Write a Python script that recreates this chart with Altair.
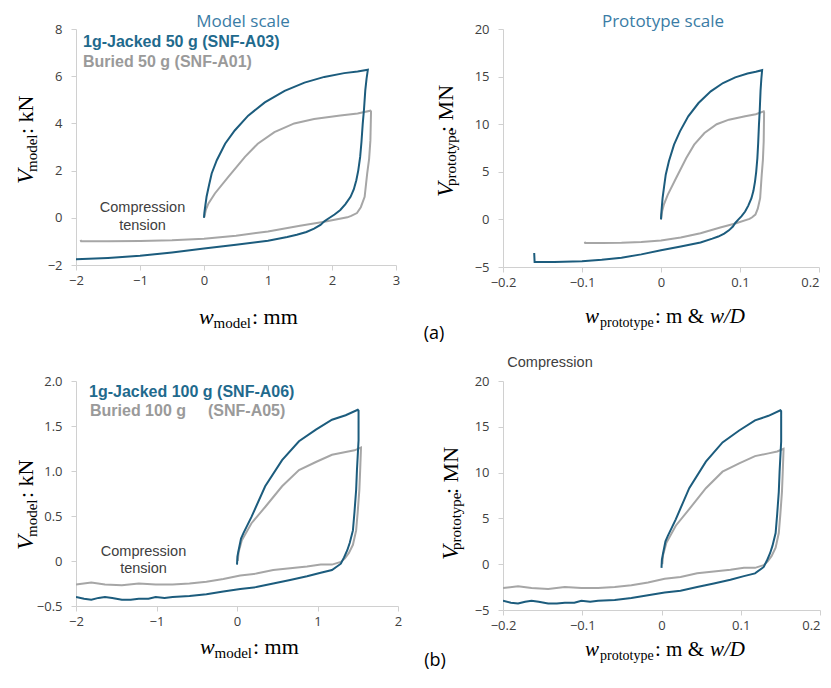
import altair as alt
import pandas as pd

# ---------------- data (model scale) ----------------
# 50 g tests: w in mm, V in kN
A03_W = [0.0, 0.005, 0.02, 0.04, 0.08, 0.12, 0.2, 0.33, 0.48, 0.69, 0.95, 1.26, 1.57, 1.88, 2.19, 2.4, 2.56,
         2.54, 2.52, 2.5, 2.48, 2.46, 2.44, 2.41, 2.38, 2.34, 2.29, 2.21, 2.13, 2.04, 1.95, 1.88, 1.82, 1.72,
         1.6, 1.45, 1.3, 1.0, 0.5, 0.0, -0.5, -1.0, -1.5, -2.0, -2.7, -3.2, -3.21]
A03_V = [0.0, 0.2, 0.5, 0.89, 1.4, 1.88, 2.44, 3.14, 3.7, 4.33, 4.89, 5.38, 5.73, 5.97, 6.13, 6.2, 6.27,
         5.9, 5.4, 4.6, 3.98, 3.2, 2.58, 2.0, 1.59, 1.2, 0.89, 0.58, 0.33, 0.14, -0.02, -0.15, -0.30, -0.46,
         -0.6, -0.72, -0.81, -0.97, -1.14, -1.30, -1.47, -1.61, -1.70, -1.76, -1.79, -1.79, -1.41]
A01_W = [0.0, 0.01, 0.03, 0.07, 0.17, 0.38, 0.64, 0.84, 1.1, 1.41, 1.72, 2.13, 2.4, 2.6,
         2.61, 2.6, 2.58, 2.55, 2.51, 2.45, 2.39, 2.3, 2.24, 1.88, 1.5, 1.0, 0.5, 0.0, -0.5, -1.0, -1.5,
         -1.92, -1.93]
A01_V = [0.0, 0.1, 0.35, 0.61, 1.03, 1.73, 2.58, 3.14, 3.63, 4.0, 4.19, 4.33, 4.42, 4.54,
         4.5, 3.28, 2.5, 1.88, 0.89, 0.45, 0.2, 0.08, 0.02, -0.17, -0.34, -0.58, -0.76, -0.89, -0.95, -0.98,
         -0.99, -0.99, -0.94]
# 100 g tests
A06_W = [0.0, 0.005, 0.02, 0.05, 0.08, 0.18, 0.35, 0.56, 0.77, 0.98, 1.18, 1.35, 1.5,
         1.51, 1.51, 1.49, 1.48, 1.46, 1.44, 1.4, 1.37, 1.33, 1.29, 1.18, 1.04, 0.87, 0.66, 0.45, 0.24, 0.04,
         -0.17, -0.38, -0.59, -0.80, -0.9, -1.01, -1.1, -1.22, -1.32, -1.43, -1.55, -1.64, -1.72, -1.81,
         -1.9, -2.0]
A06_V = [-0.04, 0.05, 0.12, 0.25, 0.31, 0.49, 0.83, 1.12, 1.33, 1.46, 1.57, 1.62, 1.68,
         1.67, 1.34, 1.01, 0.79, 0.55, 0.34, 0.2, 0.12, 0.04, -0.03, -0.10, -0.13, -0.17, -0.21, -0.25,
         -0.29, -0.31, -0.34, -0.37, -0.39, -0.40, -0.41, -0.40, -0.42, -0.42, -0.43, -0.43, -0.41, -0.40,
         -0.41, -0.43, -0.42, -0.40]
A05_W = [0.01, 0.015, 0.02, 0.06, 0.18, 0.35, 0.56, 0.77, 0.98, 1.18, 1.35, 1.46, 1.54,
         1.54, 1.53, 1.52, 1.5, 1.48, 1.44, 1.39, 1.34, 1.29, 1.18, 1.04, 0.87, 0.66, 0.45, 0.24, 0.04,
         -0.17, -0.38, -0.59, -0.80, -1.01, -1.22, -1.43, -1.64, -1.81, -2.0]
A05_V = [0.0, 0.05, 0.1, 0.23, 0.42, 0.60, 0.83, 1.01, 1.10, 1.18, 1.21, 1.23, 1.26,
         1.25, 1.01, 0.79, 0.55, 0.34, 0.18, 0.09, 0.03, -0.01, -0.04, -0.04, -0.06, -0.08, -0.10, -0.14,
         -0.16, -0.20, -0.23, -0.25, -0.26, -0.26, -0.25, -0.27, -0.26, -0.24, -0.26]

# centrifuge scaling factors (model -> prototype)
N_A = 50
N_B = 100

# axis ticks
TL_XT = [-2, -1, 0, 1, 2, 3]
TL_YT = [-2, 0, 2, 4, 6, 8]
TR_XT = [-0.2, -0.1, 0, 0.1, 0.2]
TR_YT = [-5, 0, 5, 10, 15, 20]
BL_XT = [-2, -1, 0, 1, 2]
BL_YT = [-0.5, 0, 0.5, 1.0, 1.5, 2.0]
BR_XT = [-0.2, -0.1, 0, 0.1, 0.2]
BR_YT = [-5, 0, 5, 10, 15, 20]

TEAL = "#1c5c7d"
TEAL_TXT = "#1f6a8d"
TITLE_C = "#3a7ca5"
GRAY = "#a6a6a6"
GRAY_TXT = "#9a9a9a"
DARK = "#404040"
SANS = "Open Sans"
SANS2 = "Liberation Sans"
SERIF = "Liberation Serif"
BLACK = "#000000"


def df_of(w, v, sw=1.0, sv=1.0):
    return pd.DataFrame({"w": [a * sw for a in w], "v": [b * sv for b in v], "i": list(range(len(w)))})


def T(s, x, y, size, color=DARK, font=SANS, weight="normal", style="normal", angle=0,
      align="left", baseline="alphabetic"):
    kw = dict(text=s, fontSize=size, color=color, font=font, fontWeight=weight, fontStyle=style,
              align=align, baseline=baseline)
    if angle:
        kw["angle"] = angle
    return alt.Chart(pd.DataFrame({"a": [0]})).mark_text(**kw).encode(x=alt.value(x), y=alt.value(y))


def ytitle(sub, unit, vx, vy, sx, sy, ux, uy):
    return [
        T("V", vx, vy, 24, color=BLACK, font=SERIF, style="italic", angle=270),
        T(sub, sx, sy, 15, color=BLACK, font=SERIF, angle=270),
        T(unit, ux, uy, 22, color=BLACK, font=SERIF, angle=270),
    ]


def xtitle_proto(y, size=21):
    return [
        T("w", 82, y, size, color=BLACK, font=SERIF, style="italic"),
        T("prototype", 97, y + 4, 14, color=BLACK, font=SERIF),
        T(": m & ", 152, y, size, color=BLACK, font=SERIF),
        T("w/D", 207, y, size, color=BLACK, font=SERIF, style="italic"),
    ]


def panel(series, xdom, xt, ydom, yt, width, height, box, texts, ylabel_expr=None, flush_last=False):
    xax = dict(values=xt, title=None, format="~g", labelFlush=False)
    if flush_last:
        # last label kept inside the page: right-aligned on its tick
        xax["labelAlign"] = {"condition": {"test": "datum.value > 0.15", "value": "right"},
                             "value": "center"}
    xenc = alt.X("w:Q", scale=alt.Scale(domain=xdom, nice=False, zero=False), axis=alt.Axis(**xax))
    yax = dict(values=yt, title=None, format="~g", labelFlush=False)
    if ylabel_expr:
        yax["labelExpr"] = ylabel_expr
    yenc = alt.Y("v:Q", scale=alt.Scale(domain=ydom, nice=False, zero=False), axis=alt.Axis(**yax))
    layers = []
    for d, c in series:
        layers.append(alt.Chart(d).mark_line(clip=True, color=c, strokeWidth=2)
                      .encode(x=xenc, y=yenc, order="i:Q"))
    l, t, r, b = box
    layers.append(alt.Chart(pd.DataFrame({"a": [0]})).mark_rule(strokeOpacity=0, strokeWidth=0.1)
                  .encode(x=alt.value(l), y=alt.value(t), x2=alt.value(r), y2=alt.value(b)))
    layers.extend(texts)
    return alt.layer(*layers).properties(width=width, height=height)


# ---- panel (a) left: model scale, origin at page (76, 29)
tl = panel(
    [(df_of(A01_W, A01_V), GRAY), (df_of(A03_W, A03_V), TEAL)],
    [-2, 3], TL_XT, [-2, 8], TL_YT, 320, 236, (-68, -21, 336, 321),
    ytitle("model", ": kN", -43, 155, -39.5, 143, -43, 105) + [
        T("w", 123, 295, 22, color=BLACK, font=SERIF, style="italic"),
        T("model", 137.5, 299, 15, color=BLACK, font=SERIF),
        T(": mm", 176, 295, 22, color=BLACK, font=SERIF),
        T("Model scale", 167, -7.5, 17, color=TITLE_C, align="center", baseline="middle"),
        T("1g-Jacked 50 g (SNF-A03)", 7, 13, 16, color=TEAL_TXT, font=SANS2, weight="bold",
          baseline="middle"),
        T("Buried 50 g (SNF-A01)", 7, 33, 16, color=GRAY_TXT, font=SANS2, weight="bold",
          baseline="middle"),
        T("Compression", 66.5, 179, 14.5, font=SANS2, align="center", baseline="middle"),
        T("tension", 66.5, 197, 14.5, font=SANS2, align="center", baseline="middle"),
    ])

# ---- panel (a) right: prototype scale, origin at page (503, 29)
tr = panel(
    [(df_of(A01_W, A01_V, N_A / 1000, N_A ** 2 / 1000), GRAY),
     (df_of(A03_W, A03_V, N_A / 1000, N_A ** 2 / 1000), TEAL)],
    [-0.2, 0.2], TR_XT, [-5, 20], TR_YT, 316, 238, (-91, -21, 320, 321),
    ytitle("prototype", ": MN", -50, 168, -47, 157, -50, 103) + xtitle_proto(294) + [
        T("Prototype scale", 160, -7.5, 17, color=TITLE_C, align="center", baseline="middle"),
        T("(a)", -69, 305, 18, color=BLACK, align="center", baseline="middle"),
    ], flush_last=True)

# ---- panel (b) left: origin at page (76, 381)
bl = panel(
    [(df_of(A05_W, A05_V), GRAY), (df_of(A06_W, A06_V), TEAL)],
    [-2, 2], BL_XT, [-0.5, 2.0], BL_YT, 322, 225, (-68, -31, 336, 293),
    ytitle("model", ": kN", -43, 169, -39.5, 156, -43, 117) + [
        T("w", 124, 273, 22, color=BLACK, font=SERIF, style="italic"),
        T("model", 138.5, 277, 15, color=BLACK, font=SERIF),
        T(": mm", 177, 273, 22, color=BLACK, font=SERIF),
        T("1g-Jacked 100 g (SNF-A06)", 13, 11, 16, color=TEAL_TXT, font=SANS2, weight="bold",
          baseline="middle"),
        T("Buried 100 g", 14, 30, 16, color=GRAY_TXT, font=SANS2, weight="bold", baseline="middle"),
        T("(SNF-A05)", 132, 30, 16, color=GRAY_TXT, font=SANS2, weight="bold", baseline="middle"),
        T("Compression", 67.5, 171, 14.5, font=SANS2, align="center", baseline="middle"),
        T("tension", 67.5, 188, 14.5, font=SANS2, align="center", baseline="middle"),
    ],
    ylabel_expr="datum.value == 0 ? '0' : format(datum.value, '.1f')")

# ---- panel (b) right: origin at page (503, 381)
br = panel(
    [(df_of(A05_W, A05_V, N_B / 1000, N_B ** 2 / 1000), GRAY),
     (df_of(A06_W, A06_V, N_B / 1000, N_B ** 2 / 1000), TEAL)],
    [-0.2, 0.2], BR_XT, [-5, 20], BR_YT, 317, 229, (-91, -31, 320, 293),
    ytitle("prototype", ": MN", -45, 179, -42, 169, -45, 113) + xtitle_proto(275) + [
        T("Compression", 47, -18, 14.5, font=SANS2, align="center", baseline="middle"),
        T("(b)", -68, 279.5, 18, color=BLACK, align="center", baseline="middle"),
    ], flush_last=True)

chart = alt.concat(tl, tr, bl, br, columns=2, spacing=0, align="each", bounds="full").properties(
    padding=0
).configure_view(strokeWidth=0).configure_axis(
    grid=False, domainColor="#d0d0d0", tickColor="#d0d0d0", tickSize=5, domainWidth=1,
    labelFont=SANS, labelFontSize=13, labelColor=DARK, labelPadding=4
).configure_axisY(labelPadding=9)

chart.save("out.html", embed_options={"renderer": "svg", "actions": False})
